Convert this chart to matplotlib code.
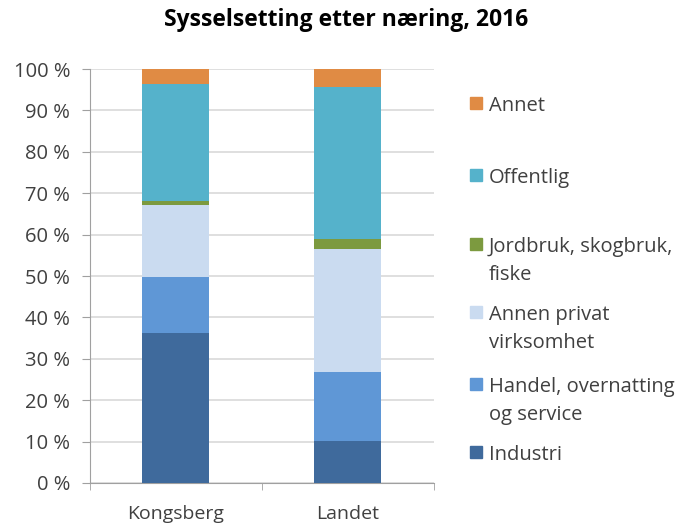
import matplotlib.pyplot as plt
from matplotlib.patches import Rectangle
import numpy as np

plt.rcParams['font.family'] = ['Open Sans', 'DejaVu Sans']

steder = ['Kongsberg', 'Landet']
naeringer = ['Industri', 'Handel, overnatting\nog service', 'Annen privat\nvirksomhet',
             'Jordbruk, skogbruk,\nfiske', 'Offentlig', 'Annet']
industri = [36.2, 10.1]
handel = [13.6, 16.8]
annen_privat = [17.3, 29.6]
jordbruk = [1.0, 2.4]
offentlig = [28.4, 36.7]
annet = [3.5, 4.4]
farger = ['#3F6A9C', '#5F97D6', '#CADBF0', '#7C9A3F', '#55B2CB', '#E08B44']

serier = [industri, handel, annen_privat, jordbruk, offentlig, annet]

fig = plt.figure(figsize=(6.8, 5.23), dpi=100)
ax = fig.add_axes([0.132, 0.0765, 0.506, 0.7915])

x = np.arange(len(steder))
bunn = np.zeros(len(steder))
for verdier, farge, navn in zip(serier, farger, naeringer):
    ax.bar(x, verdier, bottom=bunn, width=0.39, color=farge, label=navn, zorder=3)
    bunn += np.array(verdier)

ax.set_xlim(-0.5, 1.5)
ax.set_ylim(0, 100)
ax.set_yticks(np.arange(0, 101, 10))
ax.set_yticklabels([f'{v} %' for v in range(0, 101, 10)], fontsize=14.5, color='#404040')
ax.set_xticks(x)
ax.set_xticklabels(steder, fontsize=14, color='#404040')
ax.tick_params(axis='x', length=0, pad=16)
ax.tick_params(axis='y', length=6, color='#A0A0A0', pad=8)
ax.set_xticks([-0.5, 0.5, 1.5], minor=True)
ax.tick_params(axis='x', which='minor', length=5, color='#A0A0A0')
ax.grid(axis='y', color='#D9D9D9', linewidth=1.2, zorder=0)
for s in ['top', 'right']:
    ax.spines[s].set_visible(False)
ax.spines['left'].set_color('#A0A0A0')
ax.spines['bottom'].set_color('#A0A0A0')

fig.text(346 / 680, 1 - 20 / 523, 'Sysselsetting etter næring, 2016', ha='center', va='center',
         fontsize=16.5, fontweight='bold', color='#000000')

# legend, Excel style: first line of each entry evenly spaced
ys = [452, 384, 312, 244, 175, 103]
for navn, farge, y in zip(naeringer, farger, ys):
    fy = 1 - y / 523
    fig.patches.append(Rectangle((470 / 680, fy - 6 / 523), 12 / 680, 12 / 523,
                                 transform=fig.transFigure, color=farge, figure=fig))
    fig.text(489 / 680, fy + 7 / 523, navn, ha='left', va='top', fontsize=14.5,
             color='#404040', linespacing=1.55)

fig.savefig('out.png', dpi=100)
